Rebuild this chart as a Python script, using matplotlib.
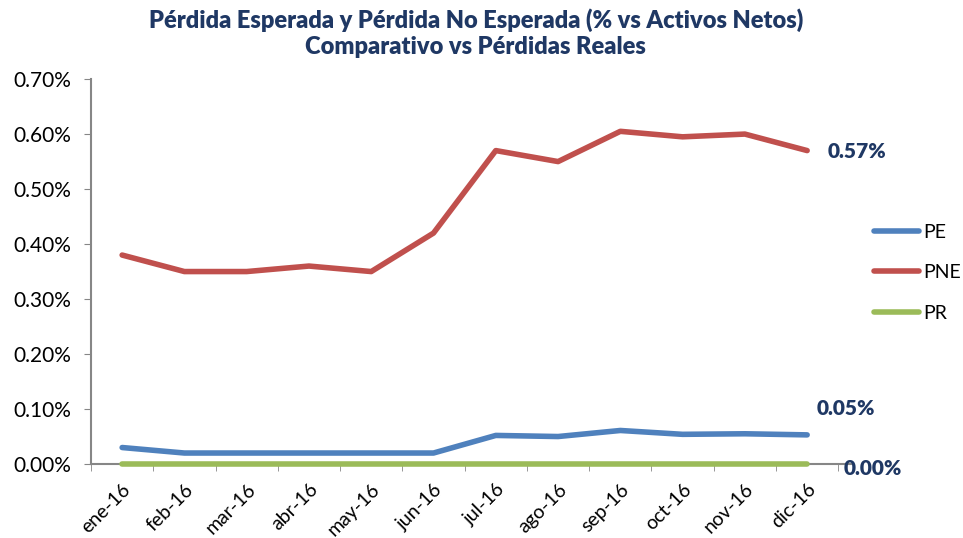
import matplotlib
matplotlib.use("Agg")
import matplotlib.pyplot as plt
from matplotlib.ticker import FuncFormatter, FixedLocator

months = ["ene-16", "feb-16", "mar-16", "abr-16", "may-16", "jun-16",
          "jul-16", "ago-16", "sep-16", "oct-16", "nov-16", "dic-16"]
pe = [0.030, 0.020, 0.020, 0.020, 0.020, 0.020, 0.052, 0.050, 0.061, 0.054, 0.055, 0.053]
pne = [0.38, 0.35, 0.35, 0.36, 0.35, 0.42, 0.57, 0.55, 0.605, 0.595, 0.60, 0.57]
pr = [0.0] * 12
yticks = [0.0, 0.1, 0.2, 0.3, 0.4, 0.5, 0.6, 0.7]

plt.rcParams["font.family"] = ["Lato", "DejaVu Sans"]
NAVY = "#1F3864"
AXIS = "#868686"

fig = plt.figure(figsize=(9.63, 5.38), dpi=100)
ax = fig.add_axes([0.0945, 0.1375, 0.776, 0.7155])

x = list(range(len(months)))
ax.plot(x, pe, color="#4F81BD", lw=4, label="PE", solid_capstyle="round", zorder=3)
ax.plot(x, pne, color="#C0504D", lw=4, label="PNE", solid_capstyle="round", zorder=3)
ax.plot(x, pr, color="#9BBB59", lw=4, label="PR", solid_capstyle="round", zorder=4, clip_on=False)

ax.set_xlim(-0.5, len(months) - 0.5)
ax.set_ylim(0, 0.7)
ax.set_yticks(yticks)
ax.yaxis.set_major_formatter(FuncFormatter(lambda v, p: f"{v:.2f}%"))
ax.tick_params(axis="y", labelsize=15, length=5, color=AXIS, pad=9)

ax.set_xticks(x)
ax.set_xticklabels(months, rotation=45, ha="right", rotation_mode="anchor", fontsize=14)
ax.xaxis.set_minor_locator(FixedLocator([i - 0.5 for i in range(len(months) + 1)]))
ax.tick_params(axis="x", which="major", length=0, pad=12)
ax.tick_params(axis="x", which="minor", length=5, color=AXIS)

for s in ["top", "right"]:
    ax.spines[s].set_visible(False)
for s in ["left", "bottom"]:
    ax.spines[s].set_color(AXIS)
    ax.spines[s].set_linewidth(1.5)
ax.spines["bottom"].set_bounds(-0.5, 11.7)

lab = dict(fontsize=15, fontweight="heavy", color=NAVY, ha="left", va="center",
           textcoords="offset points", annotation_clip=False)
ax.annotate(f"{pne[-1]:.2f}%", (11, pne[-1]), xytext=(15, -1), **lab)
ax.annotate(f"{pe[-1]:.2f}%", (11, pe[-1]), xytext=(7, 19), **lab)
ax.annotate(f"{pr[-1]:.2f}%", (11, pr[-1]), xytext=(26, -3), **lab)

fig.legend(loc="center left", bbox_to_anchor=(0.908, 0.493), frameon=False, fontsize=14,
           handlelength=2.3, labelspacing=1.2, handletextpad=0.2, borderpad=0, borderaxespad=0)

fig.suptitle("Pérdida Esperada y Pérdida No Esperada (% vs Activos Netos)\nComparativo vs Pérdidas Reales",
             x=0.494, y=0.985, fontsize=17, fontweight="heavy", color=NAVY, linespacing=1.25)

fig.savefig("out.png", dpi=100)
